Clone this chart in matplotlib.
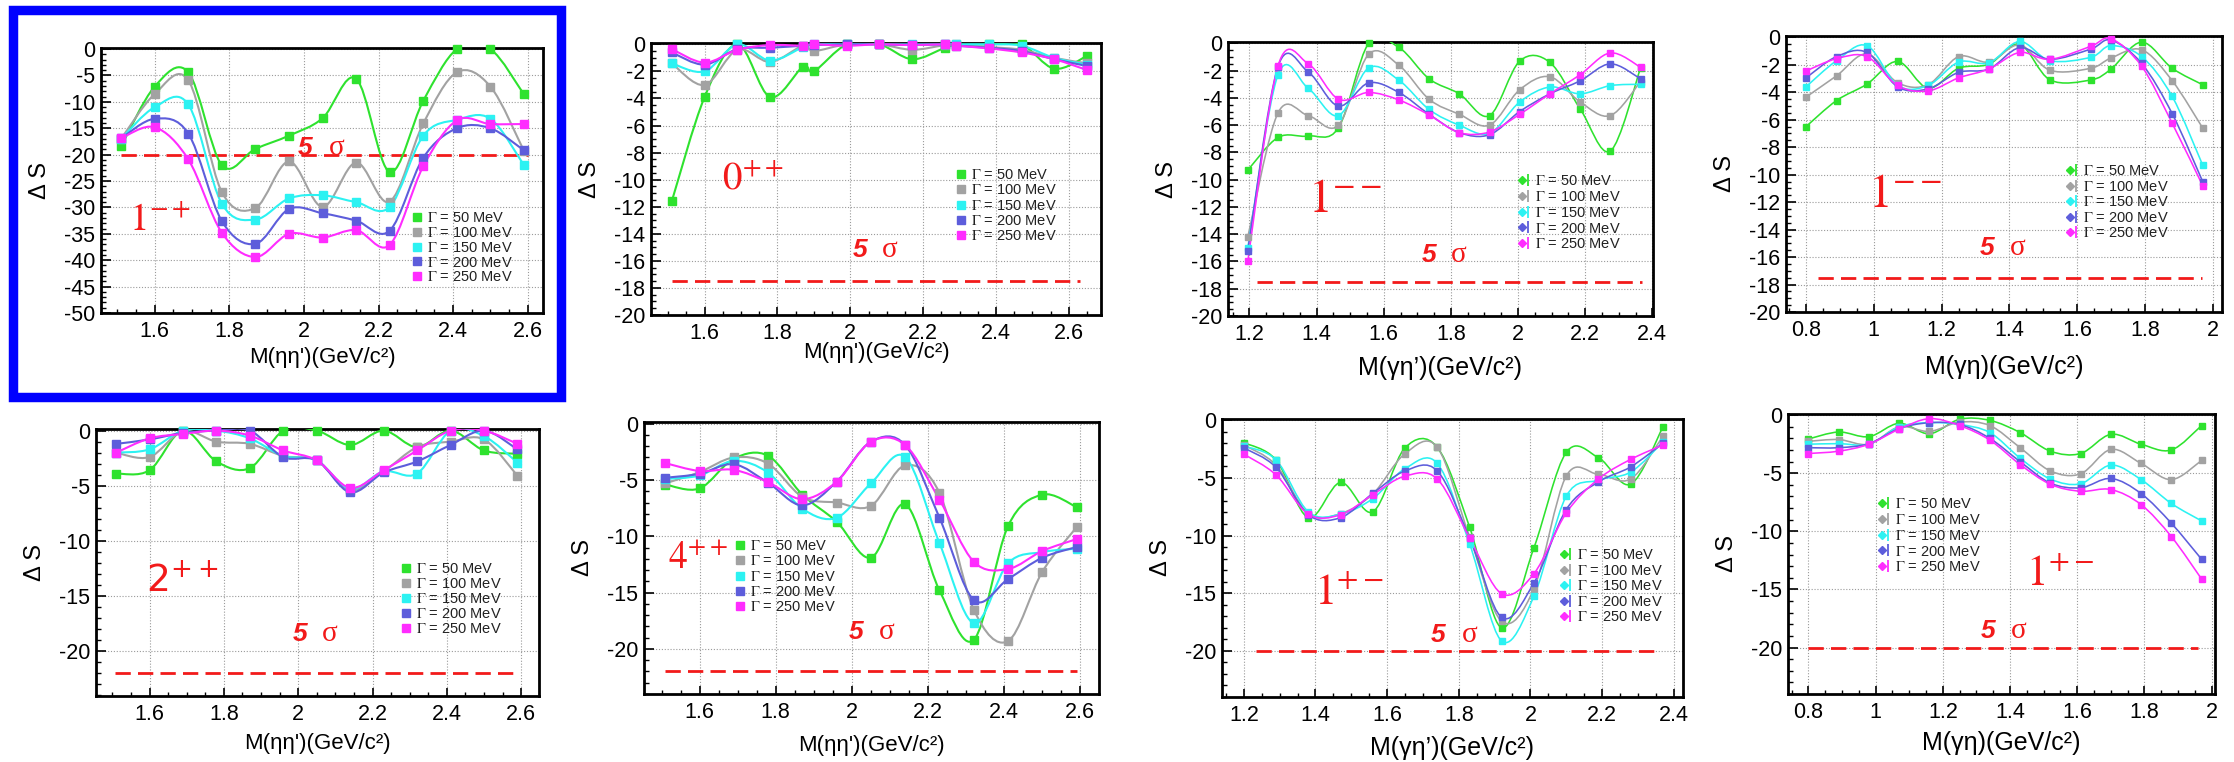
"""Delta S scans for the eta eta' / gamma eta' / gamma eta resonance searches"""
import numpy as np
import matplotlib
matplotlib.use("Agg")
import matplotlib.pyplot as plt
from matplotlib.path import Path
from matplotlib.patches import PathPatch, Rectangle
from matplotlib.lines import Line2D
from matplotlib.legend_handler import HandlerTuple
from matplotlib.ticker import MultipleLocator, FuncFormatter

plt.rcParams['font.family'] = ['Liberation Sans', 'DejaVu Sans']
plt.rcParams['mathtext.fontset'] = 'stix'
plt.rcParams['axes.unicode_minus'] = False

# ---------------- data ----------------
widths = [50, 100, 150, 200, 250]          # Gamma in MeV
colors = ['#2ee22e', '#a2a2a2', '#2cf2f2', '#5d5ddb', '#ff2cff']

# 1-+ , eta eta'
p1_x = [1.51, 1.60, 1.69, 1.78, 1.87, 1.96, 2.05, 2.14, 2.23, 2.32, 2.41, 2.50, 2.59]
p1_s = [[-18.4, -7.1, -4.4, -22.0, -18.9, -16.4, -13.1, -5.6, -23.3, -9.8, 0.0, 0.0, -8.6],
        [-17.0, -8.5, -5.9, -27.1, -30.1, -21.3, -29.9, -21.5, -28.9, -14.1, -4.4, -7.1, -19.3],
        [-17.0, -11.0, -10.5, -29.3, -32.3, -28.3, -27.7, -29.0, -29.9, -16.4, -13.4, -13.2, -22.0],
        [-16.9, -13.2, -16.0, -32.6, -36.9, -30.3, -31.1, -32.5, -34.4, -20.6, -15.0, -15.0, -19.2],
        [-16.9, -14.8, -20.9, -34.8, -39.4, -35.0, -35.7, -34.3, -37.1, -22.2, -13.5, -14.2, -14.2]]

# 0++ , eta eta'
p2_x = [1.51, 1.60, 1.69, 1.78, 1.87, 1.90, 1.99, 2.08, 2.17, 2.26, 2.29, 2.38, 2.47, 2.56, 2.65]
p2_s = [[-11.6, -3.9, 0.0, -3.9, -1.65, -2.0, 0.0, 0.0, -1.1, -0.25, -0.05, 0.0, 0.0, -1.8, -0.85],
        [-1.4, -3.0, -0.4, -1.3, -0.1, -0.5, 0.0, 0.0, -0.4, -0.05, 0.0, -0.2, -0.4, -1.0, -1.4],
        [-1.4, -2.0, 0.0, -1.2, -0.2, 0.0, 0.0, 0.0, 0.0, 0.0, 0.0, 0.0, -0.1, -1.0, -1.5],
        [-0.6, -1.5, -0.35, -0.25, -0.1, -0.05, 0.0, 0.0, -0.05, 0.0, -0.1, -0.25, -0.5, -1.1, -1.6],
        [-0.35, -1.35, -0.4, -0.05, -0.1, 0.0, -0.1, 0.0, -0.05, 0.0, -0.1, -0.3, -0.6, -1.1, -1.9]]

# 1-- , gamma eta'
p3_x = [1.195, 1.285, 1.375, 1.465, 1.555, 1.645, 1.735, 1.825, 1.915, 2.005, 2.095, 2.185, 2.275, 2.365]
p3_s = [[-9.3, -6.9, -6.8, -6.2, 0.0, -0.3, -2.6, -3.7, -5.3, -1.3, -1.4, -4.8, -7.9, -1.8],
        [-14.2, -5.1, -5.3, -6.0, -0.8, -1.6, -4.1, -5.2, -6.0, -3.4, -2.45, -4.3, -5.3, -2.8],
        [-15.0, -2.3, -3.3, -5.3, -1.8, -2.7, -4.85, -6.0, -6.6, -4.3, -3.2, -3.7, -3.1, -3.0],
        [-15.2, -1.7, -2.1, -4.6, -2.9, -3.6, -5.2, -6.55, -6.7, -5.0, -3.7, -2.75, -1.5, -2.6],
        [-16.0, -1.65, -1.5, -4.1, -3.6, -4.15, -5.25, -6.55, -6.5, -5.2, -3.7, -2.3, -0.7, -1.75]]

# 1-- , gamma eta
p4_x = [0.80, 0.89, 0.98, 1.07, 1.16, 1.25, 1.34, 1.43, 1.52, 1.64, 1.70, 1.79, 1.88, 1.97]
p4_s = [[-6.5, -4.6, -3.4, -1.75, -3.7, -2.25, -1.95, -0.5, -3.1, -3.1, -2.3, -0.35, -2.25, -3.45],
        [-4.35, -2.8, -1.2, -3.3, -3.45, -1.4, -1.8, -0.55, -2.4, -2.25, -1.5, -0.9, -3.15, -6.6],
        [-3.6, -1.7, -0.6, -3.5, -3.5, -1.8, -1.85, -0.3, -1.7, -1.45, -0.6, -1.4, -4.3, -9.3],
        [-2.95, -1.4, -1.1, -3.6, -3.75, -2.55, -2.3, -0.75, -1.6, -0.85, -0.2, -1.9, -5.55, -10.5],
        [-2.45, -1.55, -1.4, -3.5, -3.9, -2.95, -2.3, -1.1, -1.6, -0.65, -0.1, -2.1, -6.25, -10.8]]

# 2++ , eta eta'
p5_x = [1.51, 1.60, 1.69, 1.78, 1.87, 1.96, 2.05, 2.14, 2.23, 2.32, 2.41, 2.50, 2.59]
p5_s = [[-3.9, -3.6, 0.0, -2.8, -3.4, 0.0, 0.0, -1.3, 0.0, -1.5, 0.0, -1.8, -2.1],
        [-2.0, -2.4, -0.05, -1.0, -1.2, -2.3, -2.7, -5.4, -3.7, -1.5, -1.0, -0.8, -4.1],
        [-2.0, -1.7, 0.0, 0.0, -0.7, -2.3, -2.7, -5.3, -3.7, -3.9, 0.0, -0.5, -2.9],
        [-1.2, -0.8, -0.2, 0.0, 0.0, -2.4, -2.7, -5.6, -3.8, -2.8, -1.3, 0.0, -1.7],
        [-2.0, -0.7, -0.3, 0.0, -0.45, -1.8, -2.7, -5.2, -3.6, -1.8, 0.0, 0.0, -1.2]]

# 4++ , eta eta'
p6_x = [1.51, 1.60, 1.69, 1.78, 1.87, 1.96, 2.05, 2.14, 2.23, 2.32, 2.41, 2.50, 2.59]
p6_s = [[-5.4, -5.75, -3.1, -2.85, -6.3, -8.7, -11.9, -7.15, -14.8, -19.2, -9.1, -6.3, -7.4],
        [-5.3, -4.3, -3.0, -3.55, -6.5, -7.0, -7.3, -3.7, -6.15, -16.5, -19.3, -13.15, -9.2],
        [-4.9, -4.6, -3.3, -4.35, -7.55, -8.35, -5.3, -2.95, -10.6, -17.7, -12.4, -11.4, -11.1],
        [-4.8, -4.45, -3.6, -5.25, -7.25, -5.15, -1.6, -1.9, -8.35, -15.65, -13.8, -11.9, -10.95],
        [-3.5, -4.2, -4.1, -5.2, -6.7, -5.15, -1.6, -1.9, -6.75, -12.25, -12.9, -11.3, -10.25]]

# 1+- , gamma eta'
p7_x = [1.20, 1.29, 1.38, 1.47, 1.56, 1.65, 1.74, 1.83, 1.92, 2.01, 2.10, 2.19, 2.28, 2.37]
p7_s = [[-1.95, -3.45, -8.45, -5.4, -7.95, -2.4, -2.35, -9.25, -18.0, -11.05, -2.8, -3.25, -5.55, -0.6],
        [-2.15, -3.9, -8.1, -8.1, -6.4, -2.9, -2.35, -10.1, -17.45, -14.6, -4.85, -4.7, -5.1, -1.4],
        [-2.25, -3.45, -7.95, -8.15, -6.8, -4.2, -3.75, -10.7, -19.15, -15.25, -6.6, -5.2, -4.5, -1.9],
        [-2.4, -4.1, -8.2, -8.45, -6.35, -4.4, -4.4, -10.2, -17.1, -14.1, -7.75, -5.35, -4.05, -2.0],
        [-2.95, -4.75, -8.15, -8.2, -6.45, -4.85, -5.1, -10.2, -15.05, -13.3, -8.05, -5.1, -3.4, -2.15]]

# 1+- , gamma eta
p8_x = [0.80, 0.89, 0.98, 1.07, 1.16, 1.25, 1.34, 1.43, 1.52, 1.61, 1.70, 1.79, 1.88, 1.97]
p8_s = [[-2.05, -1.45, -1.85, -0.7, -1.6, -0.35, -0.45, -1.5, -3.1, -3.3, -1.65, -2.5, -3.0, -0.9],
        [-2.25, -2.1, -2.5, -1.0, -1.4, -0.6, -0.9, -2.8, -4.8, -5.05, -2.95, -4.15, -5.55, -3.9],
        [-2.5, -2.45, -2.5, -1.0, -0.65, -0.8, -1.5, -3.7, -5.5, -5.9, -4.3, -5.55, -7.6, -9.1],
        [-2.8, -2.8, -2.45, -1.15, -0.65, -0.8, -2.0, -4.0, -5.85, -6.25, -5.45, -6.75, -9.3, -12.4],
        [-3.3, -3.1, -2.5, -1.2, -0.3, -0.9, -2.15, -4.25, -5.95, -6.55, -6.4, -7.7, -10.45, -14.1]]

# 5 sigma thresholds
sigma5 = [-20.0, -17.5, -17.5, -17.5, -22.0, -22.0, -20.0, -20.0]

jpc = [r'$1^{-+}$', r'$0^{++}$', r'$1^{--}$', r'$1^{--}$',
       r'$2^{++}$', r'$4^{++}$', r'$1^{+-}$', r'$1^{+-}$']
xlabels = ["M(ηη')(GeV/c²)", "M(ηη')(GeV/c²)", "M(γη’)(GeV/c²)", "M(γη)(GeV/c²)",
           "M(ηη')(GeV/c²)", "M(ηη')(GeV/c²)", "M(γη’)(GeV/c²)", "M(γη)(GeV/c²)"]

# ---------------- layout (pixels of a 2234x762 canvas) ----------------
W, H = 2234, 762
RED = '#f21a1a'

panels = [
    dict(x=p1_x, s=p1_s, box=(101, 48, 543, 313), xlim=(1.456, 2.641), ylim=(-50, 0.2),
         ymaj=5, ymin=1, xl_y=357, xl_fs=16, kind='sq',
         sig_x=(1.51, 2.60), five=(2.004, 2.088, -18.8),
         jpc=(1.530, -34.2, 28, 'stix'), leg=(417, 220, 17.0)),
    dict(x=p2_x, s=p2_s, box=(651, 43, 1101, 315), xlim=(1.453, 2.688), ylim=(-20, 0.1),
         ymaj=2, ymin=0.5, xl_y=353, xl_fs=16, kind='sq',
         sig_x=(1.512, 2.63), five=(2.028, 2.108, -15.2),
         jpc=(1.649, -10.64, 28, 'stix'), leg=(961, 177, 17.5)),
    dict(x=p3_x, s=p3_s, box=(1228, 42, 1653, 316), xlim=(1.136, 2.402), ylim=(-20, 0.1),
         ymaj=2, ymin=0.5, xl_y=368, xl_fs=18, kind='dm',
         sig_x=(1.221, 2.37), five=(1.735, 1.822, -15.5),
         jpc=(1.3755, -12.35, 34, 'stix'), leg=(1525, 183, 18.0)),
    dict(x=p4_x, s=p4_s, box=(1786, 36, 2222, 312), xlim=(0.741, 2.027), ylim=(-20, 0.1),
         ymaj=2, ymin=0.5, xl_y=367, xl_fs=18, kind='dm',
         sig_x=(0.834, 1.968), five=(1.335, 1.424, -15.35),
         jpc=(0.984, -12.33, 34, 'stix'), leg=(2073, 173, 17.75)),
    dict(x=p5_x, s=p5_s, box=(96, 429, 539, 696), xlim=(1.456, 2.648), ylim=(-24.1, 0.15),
         ymaj=5, ymin=1, xl_y=743, xl_fs=16, kind='sq',
         sig_x=(1.507, 2.58), five=(2.004, 2.086, -18.5),
         jpc=(1.590, -14.6, 27, 'dejavusans'), leg=(406, 571, 17.25)),
    dict(x=p6_x, s=p6_s, box=(644, 422, 1099, 694), xlim=(1.454, 2.649), ylim=(-24, 0.15),
         ymaj=5, ymin=1, xl_y=745, xl_fs=16, kind='sq',
         sig_x=(1.51, 2.59), five=(2.011, 2.092, -18.5),
         jpc=(1.518, -12.85, 27, 'stix'), leg=(740, 548, 17.5)),
    dict(x=p7_x, s=p7_s, box=(1222, 419, 1683, 697), xlim=(1.139, 2.426), ylim=(-24, 0.1),
         ymaj=5, ymin=1, xl_y=748, xl_fs=18, kind='dm',
         sig_x=(1.235, 2.356), five=(1.742, 1.830, -18.6),
         jpc=(1.395, -16.0, 32, 'stix'), leg=(1567, 557, 17.75)),
    dict(x=p8_x, s=p8_s, box=(1788, 414, 2215, 694), xlim=(0.739, 2.01), ylim=(-24, 0.1),
         ymaj=5, ymin=1, xl_y=743, xl_fs=18, kind='dm',
         sig_x=(0.80, 1.959), five=(1.335, 1.427, -18.55),
         jpc=(1.448, -14.7, 31, 'stix'), leg=(1885, 506, 18.0)),
]


def smooth_path(x, y):
    """Catmull-Rom curve through the points (ROOT 'C' draw option look-alike)."""
    x = np.asarray(x, float)
    y = np.asarray(y, float)
    n = len(x)
    verts = [(x[0], y[0])]
    codes = [Path.MOVETO]
    for i in range(n - 1):
        xa, ya = (x[i - 1], y[i - 1]) if i > 0 else (x[i], y[i])
        xd, yd = (x[i + 2], y[i + 2]) if i + 2 < n else (x[i + 1], y[i + 1])
        c1 = (x[i] + (x[i + 1] - xa) / 6, y[i] + (y[i + 1] - ya) / 6)
        c2 = (x[i + 1] - (xd - x[i]) / 6, y[i + 1] - (yd - y[i]) / 6)
        verts += [c1, c2, (x[i + 1], y[i + 1])]
        codes += [Path.CURVE4] * 3
    return Path(verts, codes)


fig = plt.figure(figsize=(W / 100, H / 100), dpi=100)
fig.patch.set_facecolor('white')

# highlighted first panel
fig.patches.append(Rectangle((12.5 / W, 1 - 397.5 / H), 548 / W, 387 / H,
                             transform=fig.transFigure, fill=False,
                             edgecolor='#0000ff', linewidth=6.8, zorder=0))

for k, p in enumerate(panels):
    x0, yt, x1, yb = p['box']
    ax = fig.add_axes([x0 / W, 1 - yb / H, (x1 - x0) / W, (yb - yt) / H])
    ax.set_xlim(*p['xlim'])
    ax.set_ylim(*p['ylim'])

    thin = p['kind'] == 'dm'
    lw = 1.15 if thin else 1.5
    ms = 4.0 if thin else 5.6

    handles = []
    for j, (w, c) in enumerate(zip(widths, colors)):
        ax.add_patch(PathPatch(smooth_path(p['x'], p['s'][j]), fill=False,
                               edgecolor=c, linewidth=lw, zorder=3 + j))
        ax.plot(p['x'], p['s'][j], 's', color=c, ms=ms, mec=c,
                clip_on=False, zorder=10 + j)
        if thin:
            handles.append((Line2D([], [], marker='D', ms=4.4, color=c, ls='none'),
                            Line2D([], [], marker='|', ms=8.5, mew=1.3, color=c, ls='none')))
        else:
            handles.append(Line2D([], [], marker='s', ms=5.8, color=c, ls='none'))

    # 5 sigma line and label
    ax.plot(p['sig_x'], [sigma5[k], sigma5[k]], color=RED, lw=2.0,
            dashes=(5.5, 2.6), zorder=2)
    fx5, fxs, fy = p['five']
    ax.text(fx5, fy, '5', color=RED, fontsize=19, fontweight='bold',
            fontstyle='italic', ha='center', va='center', zorder=20)
    ax.text(fxs, fy, 'σ', color=RED, fontsize=21, family='Liberation Serif',
            ha='center', va='center', zorder=20)

    jx, jy, jfs, mfam = p['jpc']
    ax.text(jx, jy, jpc[k], color=RED, fontsize=jfs, ha='left', va='baseline',
            math_fontfamily=mfam, zorder=20)

    # axes styling in the ROOT manner
    for sp in ax.spines.values():
        sp.set_linewidth(2.0)
        sp.set_color('black')
    ax.xaxis.set_major_locator(MultipleLocator(0.2))
    ax.xaxis.set_minor_locator(MultipleLocator(0.05))
    ax.yaxis.set_major_locator(MultipleLocator(p['ymaj']))
    ax.yaxis.set_minor_locator(MultipleLocator(p['ymin']))
    fmt = FuncFormatter(lambda v, pos: ('%g' % round(v, 3)))
    ax.xaxis.set_major_formatter(fmt)
    ax.yaxis.set_major_formatter(fmt)
    ax.tick_params(which='both', direction='in', top=False, right=False,
                   labelsize=15.5, color='black')
    ax.tick_params(axis='y', which='major', length=7, width=1.2, pad=4)
    ax.tick_params(axis='y', which='minor', length=3.5, width=1.0)
    ax.tick_params(axis='x', which='major', length=6, width=1.2, pad=6)
    ax.tick_params(axis='x', which='minor', length=3, width=1.0)
    ax.grid(True, which='major', color='#9a9a9a', linestyle=(0, (1, 1.6)),
            linewidth=0.8, zorder=0)
    ax.set_axisbelow(True)

    # legend placed by pixel position of the first marker
    lfs = 10.5
    hl = 0.9
    mx, my, step = p['leg']
    labels = [r'$\Gamma$ = %d MeV' % w for w in widths]
    leg = ax.legend(handles, labels, loc='upper left',
                    bbox_to_anchor=((mx - hl * lfs * 1.389 / 2) / W, 1 - (my - 8.8) / H),
                    bbox_transform=fig.transFigure, frameon=False, fontsize=lfs,
                    borderpad=0, borderaxespad=0, handlelength=hl, handletextpad=0.25,
                    labelspacing=max(0.0, (step - 16.2) / (lfs * 1.389)),
                    handler_map={tuple: HandlerTuple(ndivide=None)})
    leg.set_zorder(30)
    for t in leg.get_texts():
        t.set_color('#222222')
        t.set_math_fontfamily('stix')

    # axis titles
    fig.text(((x0 + x1) / 2) / W, 1 - p['xl_y'] / H, xlabels[k], fontsize=p['xl_fs'],
             ha='center', va='center')
    fig.text((x0 - 61) / W, 1 - ((yt + yb) / 2) / H, 'Δ S', fontsize=17,
             rotation=90, ha='center', va='center')

fig.savefig('out.png', dpi=100)
